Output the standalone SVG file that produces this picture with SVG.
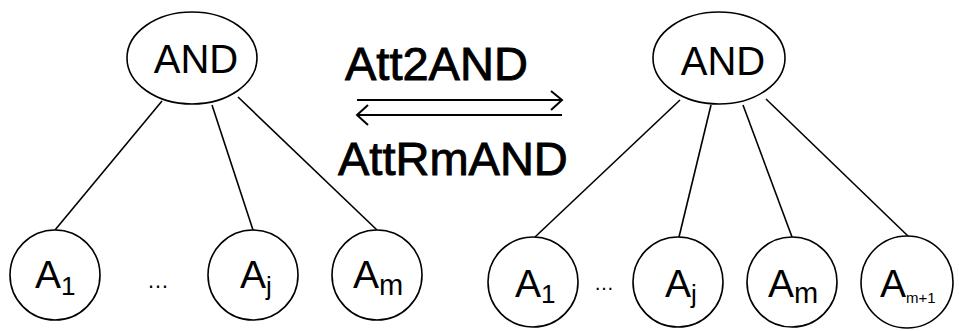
<svg xmlns="http://www.w3.org/2000/svg" width="959" height="331" viewBox="0 0 959 331">
<style>
.node{fill:#fff;stroke:#000;stroke-width:1.6}
.edge{stroke:#000;stroke-width:1.6;fill:none}
.lbl{font-family:"Liberation Sans",Arial,sans-serif;fill:#000}
.big{font-size:40px}
.a{font-size:39px}
.sub{font-size:26px}
.subm{font-size:29px}
.op{font-family:"Liberation Sans",Arial,sans-serif;font-size:47px;fill:#000;stroke:#000;stroke-width:0.9}
.arr{stroke:#000;stroke-width:2;fill:none}
</style>
<rect width="959" height="331" fill="#fff"/>
<g id="connectors">
  <line class="edge" x1="162" y1="101" x2="55" y2="230"/>
  <line class="edge" x1="212" y1="105" x2="253" y2="230"/>
  <line class="edge" x1="238" y1="97" x2="377" y2="230"/>
  <line class="edge" x1="680" y1="100" x2="535" y2="237"/>
  <line class="edge" x1="711" y1="105" x2="679" y2="237"/>
  <line class="edge" x1="743" y1="105" x2="792" y2="237"/>
  <line class="edge" x1="766" y1="99" x2="909" y2="237"/>
</g>
<g id="transform">
  <text class="op" x="345" y="80">Att2AND</text>
  <text class="op" x="338" y="175">AttRmAND</text>
  <path class="arr" d="M357 100H562M551 91L562 100L551 110"/>
  <path class="arr" d="M562 115H357M368 105L357 115L368 125"/>
</g>
<g id="and-left">
  <ellipse class="node" cx="192" cy="58" rx="65" ry="46"/>
  <text class="lbl big" x="196" y="73" text-anchor="middle">AND</text>
</g>
<g id="a1-left">
  <circle class="node" cx="55" cy="275" r="45"/>
  <text class="lbl a" x="35" y="288">A<tspan class="sub" y="295">1</tspan></text>
</g>
<g id="dots-left"><text class="lbl" x="158" y="288" font-size="22" text-anchor="middle">…</text></g>
<g id="aj-left">
  <circle class="node" cx="253" cy="275" r="45"/>
  <text class="lbl a" x="240" y="288">A<tspan class="sub" y="295">j</tspan></text>
</g>
<g id="am-left">
  <circle class="node" cx="377" cy="275" r="45"/>
  <text class="lbl a" x="353" y="288">A<tspan class="subm" y="295">m</tspan></text>
</g>
<g id="and-right">
  <ellipse class="node" cx="719" cy="58" rx="66" ry="46"/>
  <text class="lbl big" x="723" y="75" text-anchor="middle">AND</text>
</g>
<g id="a1-right">
  <circle class="node" cx="533" cy="282" r="45"/>
  <text class="lbl a" x="515" y="297">A<tspan class="sub" y="303">1</tspan></text>
</g>
<g id="dots-right"><text class="lbl" x="604" y="290" font-size="20" text-anchor="middle">…</text></g>
<g id="aj-right">
  <circle class="node" cx="678" cy="282" r="45"/>
  <text class="lbl a" x="665" y="297">A<tspan class="sub" y="303">j</tspan></text>
</g>
<g id="am-right">
  <circle class="node" cx="792" cy="282" r="45"/>
  <text class="lbl a" x="768" y="297">A<tspan class="subm" y="303">m</tspan></text>
</g>
<g id="am1-right">
  <circle class="node" cx="907" cy="282" r="46"/>
  <text class="lbl a" x="880" y="297">A<tspan font-size="15" y="303">m+1</tspan></text>
</g>
</svg>
